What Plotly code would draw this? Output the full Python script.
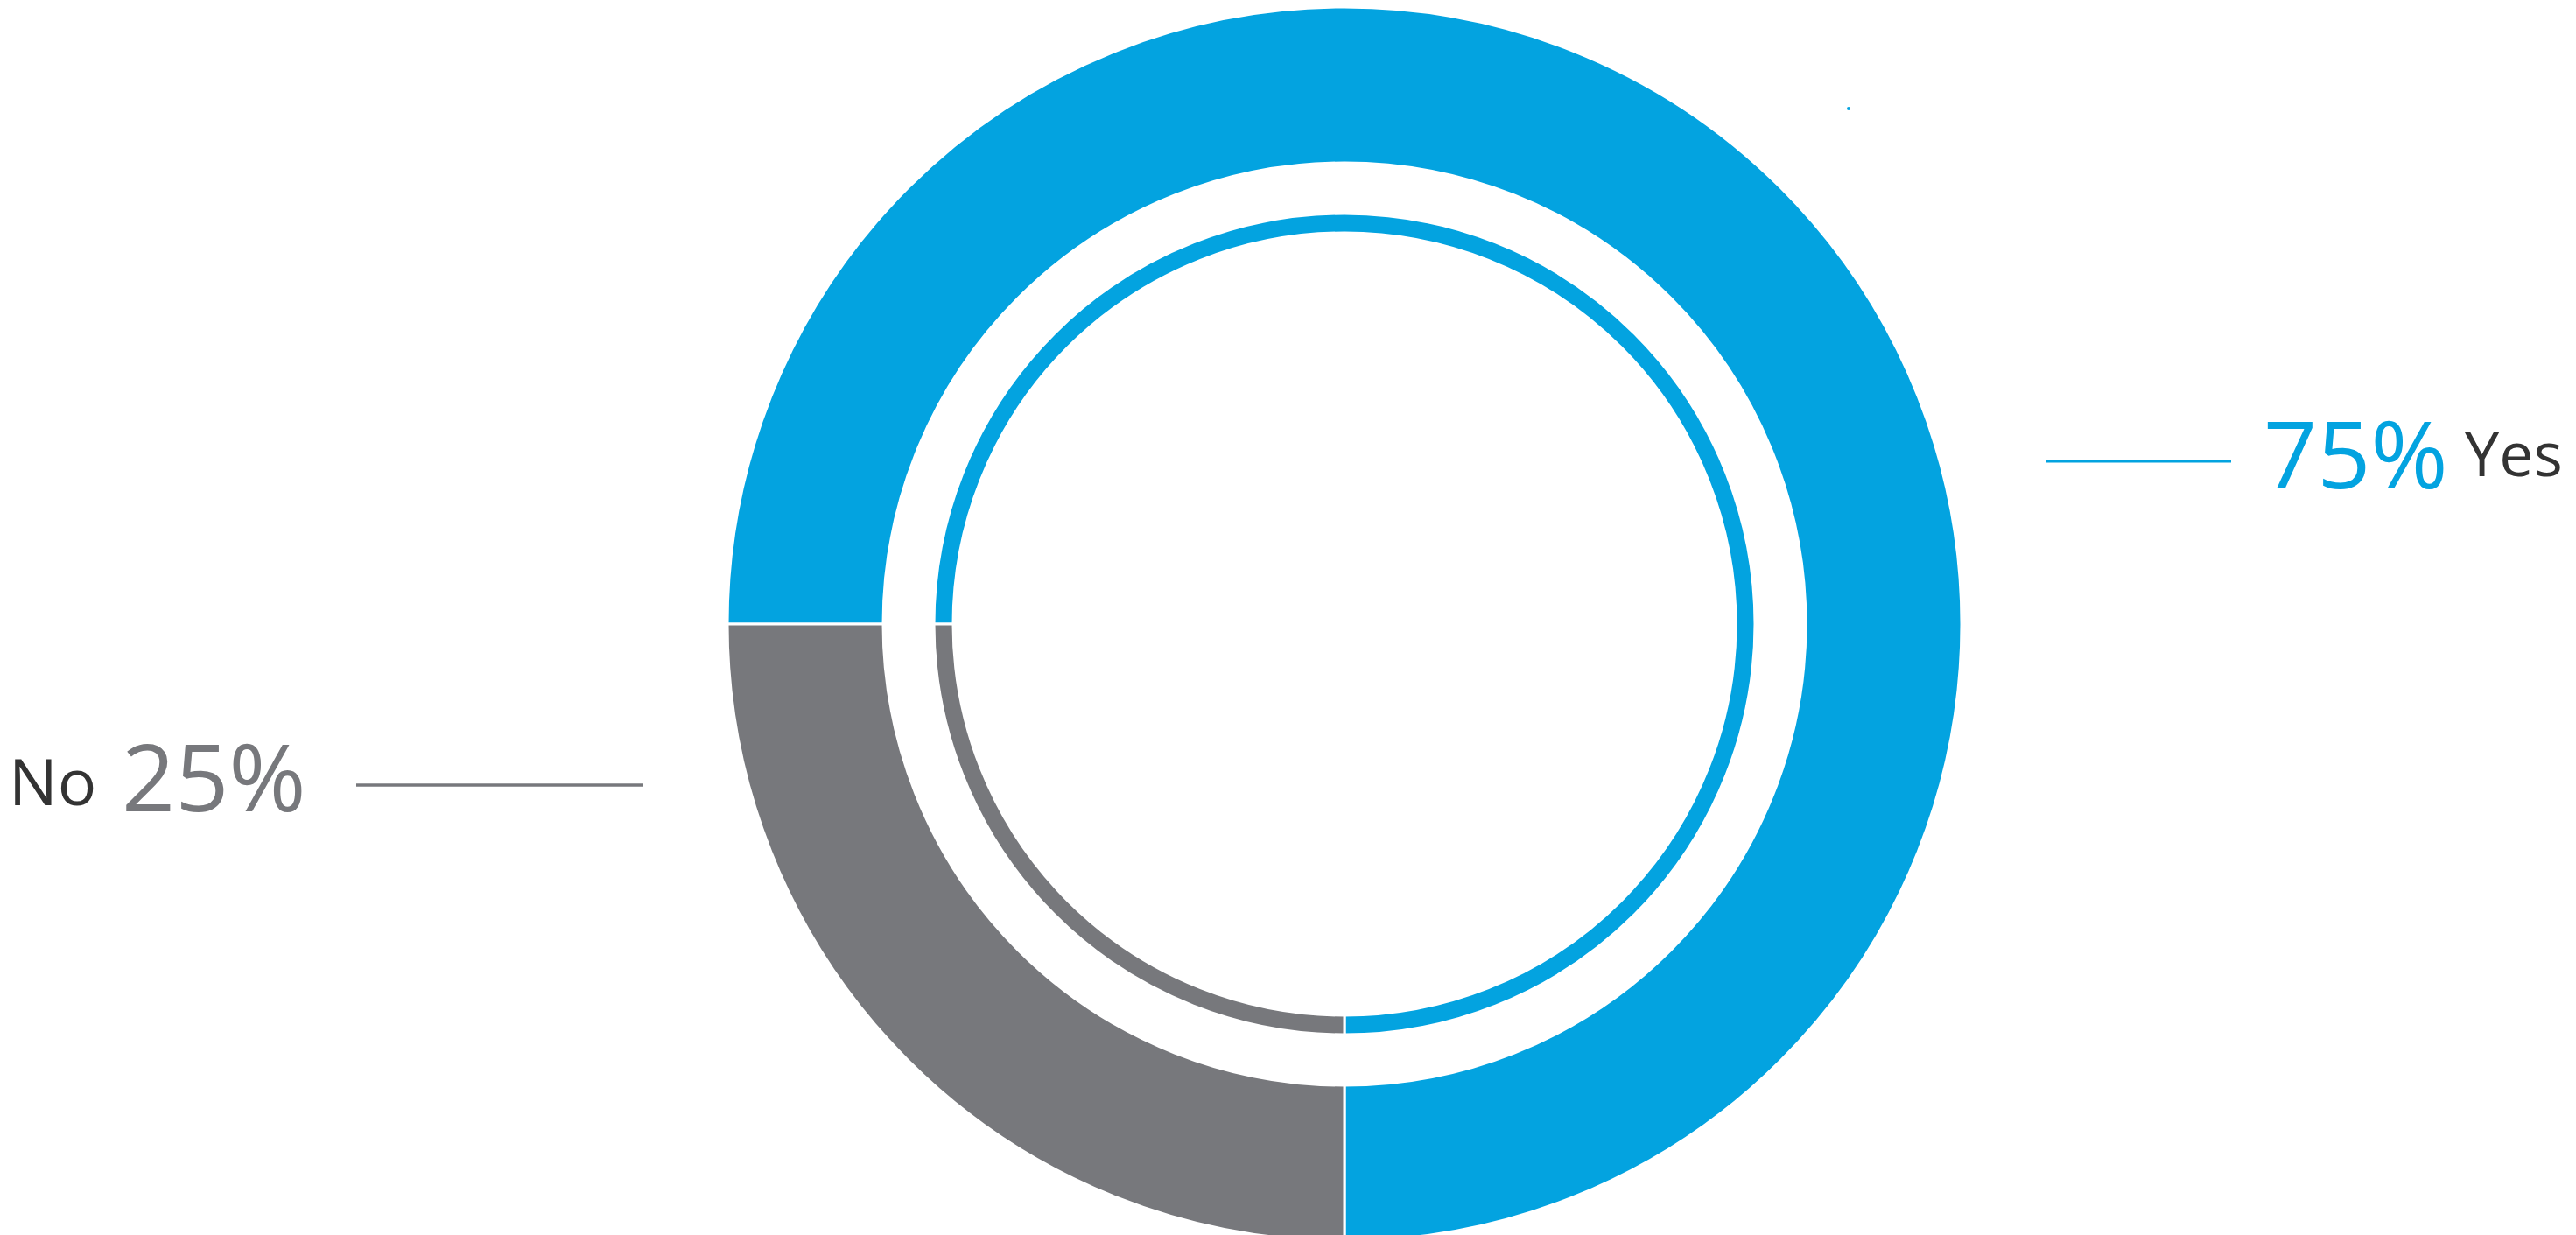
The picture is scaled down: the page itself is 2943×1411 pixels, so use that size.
import plotly.graph_objects as go

W, H = 2943, 1411

labels = ["Yes", "No"]
values = [75, 25]
colors = ["#03A3E0", "#77787C"]
label_colors = ["#333333", "#333333"]

FONT = "Open Sans, Noto Sans, Liberation Sans, sans-serif"

cx, cy = 1528, 705          # pie centre in pixels (y from top)
r_outer, r_outer_in = 705, 527
r_thin, r_thin_in = 469, 447


def clamp(v):
    return min(1.0, max(0.0, v))


def dom(r):
    return dict(x=[clamp((cx - r) / W), clamp((cx + r) / W)],
                y=[clamp((H - cy - r) / H), clamp((H - cy + r) / H)])


fig = go.Figure()
for r, r_in in [(r_outer, r_outer_in), (r_thin, r_thin_in)]:
    fig.add_trace(go.Pie(
        labels=labels, values=values, sort=False,
        direction="clockwise", rotation=270,
        hole=r_in / r, domain=dom(r),
        marker=dict(colors=colors, line=dict(color="white", width=3)),
        textinfo="none", hoverinfo="label+percent", showlegend=False,
    ))

# invisible pixel-space axes for annotations and leader lines
fig.update_xaxes(range=[0, W], visible=False, fixedrange=True)
fig.update_yaxes(range=[H, 0], visible=False, fixedrange=True)

pct = [f"{v}%" for v in values]

# Yes (right side)
fig.add_shape(type="line", x0=2329, x1=2541, y0=519, y1=519, xref="x", yref="y",
              line=dict(color=colors[0], width=3))
fig.add_annotation(x=2576, y=508, xref="x", yref="y", text=pct[0], showarrow=False,
                   xanchor="left", yanchor="middle",
                   font=dict(family=FONT, size=107, color=colors[0]))
fig.add_annotation(x=2806, y=509, xref="x", yref="y", text=labels[0], showarrow=False,
                   xanchor="left", yanchor="middle",
                   font=dict(family=FONT, size=70, color=label_colors[0]))

# No (left side)
fig.add_shape(type="line", x0=399, x1=727, y0=889, y1=889, xref="x", yref="y",
              line=dict(color=colors[1], width=3.5))
fig.add_annotation(x=129, y=877, xref="x", yref="y", text=pct[1], showarrow=False,
                   xanchor="left", yanchor="middle",
                   font=dict(family=FONT, size=107, color=colors[1]))
fig.add_annotation(x=0, y=883, xref="x", yref="y", text=labels[1],
                   showarrow=False, xanchor="left", yanchor="middle",
                   font=dict(family=FONT, size=74, color=label_colors[1]))

# tiny stray dot present in the original artwork
fig.add_shape(type="circle", x0=2102, x1=2106, y0=114, y1=118, xref="x", yref="y",
              line=dict(width=0), fillcolor=colors[0])

fig.update_layout(
    width=W, height=H,
    margin=dict(l=0, r=0, t=0, b=0),
    paper_bgcolor="white", plot_bgcolor="white",
    showlegend=False,
)

fig.write_html("out.html", config={"displayModeBar": False})
